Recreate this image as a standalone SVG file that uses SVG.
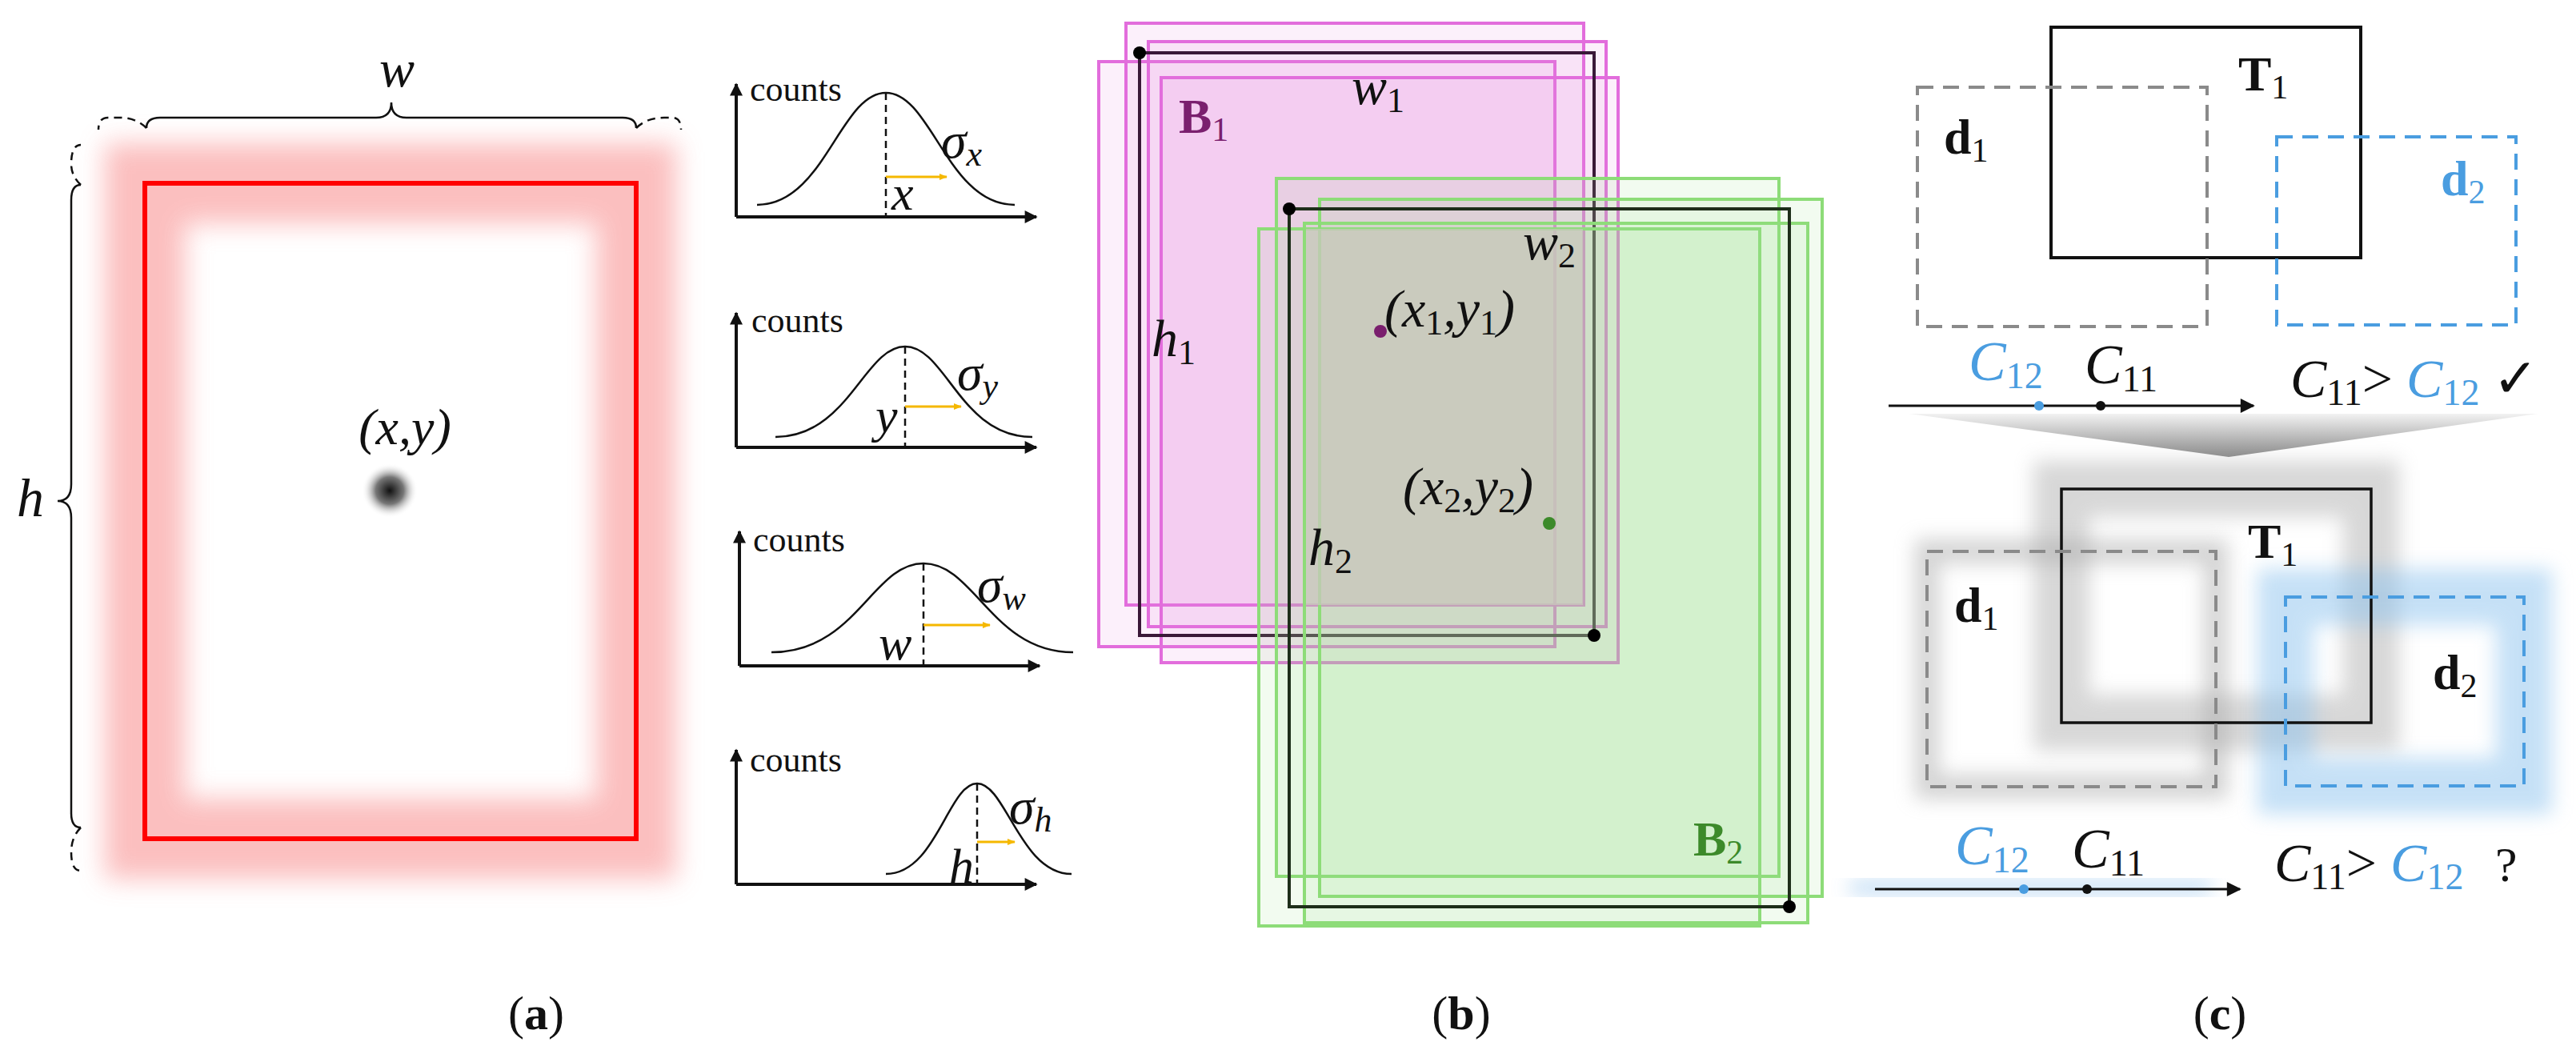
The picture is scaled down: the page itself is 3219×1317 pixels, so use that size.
<svg xmlns="http://www.w3.org/2000/svg" width="3219" height="1317" viewBox="0 0 3219 1317">
<defs>
<style>
.m{font-family:"Liberation Serif",serif;font-style:italic}
.s{font-family:"Liberation Serif",serif}
.cnt{font-family:"Liberation Serif",serif;font-size:44px;fill:#111}
.ax{stroke:#111;stroke-width:4;fill:none}
.g{stroke:#111;stroke-width:2.5;fill:none}
.dsh{stroke:#111;stroke-width:2.5;stroke-dasharray:9 6}
.ya{stroke:#f5b800;stroke-width:3}
.pk{fill:#e68ee0;fill-opacity:0.13;stroke:#e26ddc;stroke-width:4}
.gr{fill:#9ee28a;fill-opacity:0.13;stroke:#8ddc78;stroke-width:4}
.b{font-family:"Liberation Serif",serif;font-weight:bold}
.blue{fill:#4a9de0}
</style>
<marker id="ah" viewBox="0 0 10 10" refX="9" refY="5" markerWidth="18" markerHeight="16" orient="auto" markerUnits="userSpaceOnUse"><path d="M0,0L10,5L0,10z" fill="#111"/></marker>
<marker id="ahb" viewBox="0 0 10 10" refX="9" refY="5" markerWidth="24" markerHeight="18" orient="auto" markerUnits="userSpaceOnUse"><path d="M0,0L10,5L0,10z" fill="#111"/></marker>
<marker id="ay" viewBox="0 0 10 10" refX="9" refY="5" markerWidth="12" markerHeight="10" orient="auto" markerUnits="userSpaceOnUse"><path d="M0,1L10,5L0,9z" fill="#f5b800"/></marker>
<filter id="bl" x="-30%" y="-30%" width="160%" height="160%"><feGaussianBlur stdDeviation="16"/></filter>
<filter id="bl2" x="-50%" y="-50%" width="200%" height="200%"><feGaussianBlur stdDeviation="12"/></filter>
<radialGradient id="blob"><stop offset="0" stop-color="#111"/><stop offset="0.5" stop-color="#777"/><stop offset="1" stop-color="#fff" stop-opacity="0"/></radialGradient>
<linearGradient id="fun" x1="0" y1="0" x2="0" y2="1"><stop offset="0" stop-color="#f2f2f2"/><stop offset="1" stop-color="#8a8a8a"/></linearGradient>
</defs>
<rect width="3219" height="1317" fill="#fff"/>

<g id="panel-a">
<rect x="181" y="229" width="614" height="819" fill="none" stroke="#fbb4b4" stroke-width="100" filter="url(#bl)" opacity="0.85"/>
<rect x="181" y="229" width="614" height="819" fill="none" stroke="#f00" stroke-width="6"/>
<rect x="452" y="579" width="70" height="68" fill="url(#blob)"/>
<text class="m" x="506" y="555" font-size="64" text-anchor="middle" fill="#111">(x,y)</text>
<path d="M183,160 Q183,147 200,147 L470,147 Q489,147 489,128 Q489,147 508,147 L778,147 Q795,147 795,160" class="g" stroke-width="3.5"/>
<path d="M183,160 Q170,147 150,147 L135,147 Q123,147 123,162 M795,160 Q808,147 830,147 L840,147 Q851,147 851,162" class="g" stroke-width="3" stroke-dasharray="10 7"/>
<text class="m" x="496" y="108" font-size="66" text-anchor="middle" fill="#111">w</text>
<path d="M101,231 Q89,231 89,250 L89,605 Q89,626 72,626 Q89,626 89,647 L89,1016 Q89,1034 101,1034" class="g" stroke-width="3.5"/>
<path d="M101,231 Q89,220 89,205 Q89,181 101,181 M101,1034 Q89,1046 89,1065 Q89,1088 101,1088" class="g" stroke-width="3" stroke-dasharray="10 7"/>
<text class="m" x="38" y="645" font-size="68" text-anchor="middle" fill="#111">h</text>
<text class="s" x="670" y="1286" font-size="60" text-anchor="middle" fill="#111">(<tspan class="b">a</tspan>)</text>
</g>

<g id="chart-x">
<path d="M920,271 L1295,271" class="ax" marker-end="url(#ah)"/><path d="M920,271 L920,105" class="ax" marker-end="url(#ah)"/>
<text class="cnt" x="937" y="126">counts</text>
<path d="M946,256 C1030,256 1050,116 1107,116 C1164,116 1184,256 1268,256" class="g"/>
<line x1="1107" y1="116" x2="1107" y2="271" class="dsh"/>
<line x1="1107" y1="221" x2="1183" y2="221" class="ya" marker-end="url(#ay)"/>
<text class="m" x="1176" y="197" font-size="64" fill="#111">σ<tspan font-size="44" dy="10">x</tspan></text>
<text class="m" x="1114" y="262" font-size="62" fill="#111">x</text>
</g>
<g id="chart-y">
<path d="M920,559 L1295,559" class="ax" marker-end="url(#ah)"/><path d="M920,559 L920,391" class="ax" marker-end="url(#ah)"/>
<text class="cnt" x="939" y="415">counts</text>
<path d="M969,546 C1060,546 1080,433 1131,433 C1182,433 1200,546 1290,546" class="g"/>
<line x1="1131" y1="433" x2="1131" y2="559" class="dsh"/>
<line x1="1131" y1="508" x2="1201" y2="508" class="ya" marker-end="url(#ay)"/>
<text class="m" x="1196" y="487" font-size="64" fill="#111">σ<tspan font-size="44" dy="10">y</tspan></text>
<text class="m" x="1094" y="540" font-size="62" fill="#111">y</text>
</g>
<g id="chart-w">
<path d="M924,832 L1299,832" class="ax" marker-end="url(#ah)"/><path d="M924,832 L924,664" class="ax" marker-end="url(#ah)"/>
<text class="cnt" x="941" y="689">counts</text>
<path d="M964,815 C1070,815 1090,704 1154,704 C1218,704 1240,815 1341,815" class="g"/>
<line x1="1154" y1="704" x2="1154" y2="832" class="dsh"/>
<line x1="1154" y1="781" x2="1237" y2="781" class="ya" marker-end="url(#ay)"/>
<text class="m" x="1221" y="752" font-size="64" fill="#111">σ<tspan font-size="44" dy="10">w</tspan></text>
<text class="m" x="1098" y="824" font-size="62" fill="#111">w</text>
</g>
<g id="chart-h">
<path d="M920,1105 L1295,1105" class="ax" marker-end="url(#ah)"/><path d="M920,1105 L920,937" class="ax" marker-end="url(#ah)"/>
<text class="cnt" x="937" y="964">counts</text>
<path d="M1107,1092 C1170,1092 1185,979 1221,979 C1257,979 1275,1092 1339,1092" class="g"/>
<line x1="1221" y1="979" x2="1221" y2="1105" class="dsh"/>
<line x1="1221" y1="1052" x2="1268" y2="1052" class="ya" marker-end="url(#ay)"/>
<text class="m" x="1261" y="1029" font-size="64" fill="#111">σ<tspan font-size="44" dy="10">h</tspan></text>
<text class="m" x="1186" y="1103" font-size="62" fill="#111">h</text>
</g>

<g id="box-B1">
<rect class="pk" x="1373" y="77" width="570" height="731"/>
<rect class="pk" x="1407" y="29" width="572" height="727"/>
<rect class="pk" x="1435" y="52" width="572" height="731"/>
<rect class="pk" x="1451" y="97" width="571" height="731"/>
<rect x="1424" y="66" width="568" height="728" fill="none" stroke="#3a1838" stroke-width="4"/>
</g>
<g id="box-B2">
<rect class="gr" x="1573" y="286" width="626" height="871"/>
<rect class="gr" x="1595" y="223" width="628" height="872"/>
<rect class="gr" x="1630" y="279" width="629" height="874"/>
<rect class="gr" x="1649" y="249" width="628" height="871"/>
<rect x="1632" y="286" width="346" height="470" fill="#c8c8bc" fill-opacity="0.75"/>
<rect x="1611" y="261" width="625" height="872" fill="none" stroke="#1e2e1a" stroke-width="4"/>
</g>
<g id="labels-b">
<circle cx="1424" cy="66" r="8" fill="#000"/><circle cx="1992" cy="794" r="8" fill="#000"/>
<circle cx="1611" cy="261" r="8" fill="#000"/><circle cx="2236" cy="1133" r="8" fill="#000"/>
<circle cx="1725" cy="414" r="8" fill="#7a1f6e"/><circle cx="1936" cy="654" r="8" fill="#3c8a2a"/>
<text class="b" x="1473" y="166" font-size="62" fill="#7a1f6e">B<tspan font-weight="normal" font-size="42" dy="10">1</tspan></text>
<text class="b" x="2116" y="1069" font-size="62" fill="#3c8a2a">B<tspan font-weight="normal" font-size="42" dy="10">2</tspan></text>
<text class="m" x="1689" y="130" font-size="66" fill="#111">w<tspan font-style="normal" font-size="44" dy="10">1</tspan></text>
<text class="m" x="1903" y="324" font-size="66" fill="#111">w<tspan font-style="normal" font-size="44" dy="10">2</tspan></text>
<text class="m" x="1439" y="445" font-size="66" fill="#111">h<tspan font-style="normal" font-size="44" dy="10">1</tspan></text>
<text class="m" x="1635" y="706" font-size="66" fill="#111">h<tspan font-style="normal" font-size="44" dy="10">2</tspan></text>
<text class="m" x="1730" y="408" font-size="66" fill="#111">(x<tspan font-style="normal" font-size="44" dy="10">1</tspan><tspan dy="-10">,y</tspan><tspan font-style="normal" font-size="44" dy="10">1</tspan><tspan dy="-10">)</tspan></text>
<text class="m" x="1753" y="630" font-size="66" fill="#111">(x<tspan font-style="normal" font-size="44" dy="10">2</tspan><tspan dy="-10">,y</tspan><tspan font-style="normal" font-size="44" dy="10">2</tspan><tspan dy="-10">)</tspan></text>
<text class="s" x="1826" y="1286" font-size="60" text-anchor="middle" fill="#111">(<tspan class="b">b</tspan>)</text>
</g>

<g id="panel-c-top">
<rect x="2563" y="34" width="387" height="288" fill="none" stroke="#111" stroke-width="4"/>
<rect x="2396" y="109" width="362" height="299" fill="none" stroke="#8a8a8a" stroke-width="4" stroke-dasharray="20 12"/>
<rect x="2845" y="171" width="299" height="235" fill="none" stroke="#4a9de0" stroke-width="4" stroke-dasharray="20 12"/>
<text class="b" x="2797" y="113" font-size="62" fill="#111">T<tspan font-weight="normal" font-size="42" dy="10">1</tspan></text>
<text class="b" x="2429" y="192" font-size="62" fill="#111">d<tspan font-weight="normal" font-size="42" dy="10">1</tspan></text>
<text class="b" x="3050" y="244" font-size="62" fill="#4a9de0">d<tspan font-weight="normal" font-size="42" dy="10">2</tspan></text>
<line x1="2360" y1="507" x2="2816" y2="507" stroke="#111" stroke-width="3" marker-end="url(#ahb)"/>
<circle cx="2548" cy="507" r="6" fill="#4a9de0"/><circle cx="2625" cy="507" r="6" fill="#111"/>
<text class="m" x="2460" y="475" font-size="70" fill="#4a9de0">C<tspan font-style="normal" font-size="46" dy="10">12</tspan></text>
<text class="m" x="2605" y="479" font-size="70" fill="#111">C<tspan font-style="normal" font-size="46" dy="10">11</tspan></text>
<text class="s" x="2862" y="496" font-size="68" fill="#111"><tspan font-style="italic">C</tspan><tspan font-size="46" dy="10">11</tspan><tspan dy="-10">&gt; </tspan><tspan font-style="italic" class="blue">C</tspan><tspan font-size="46" dy="10" class="blue">12</tspan><tspan dy="-10"> ✓</tspan></text>
<path d="M2386,517 L3171,517 L2785,571 Z" fill="url(#fun)"/>
</g>

<g id="panel-c-bottom">
<rect x="2576" y="611" width="387" height="292" fill="none" stroke="#a8a8a8" stroke-width="70" filter="url(#bl2)" opacity="0.45"/>
<rect x="2408" y="689" width="361" height="294" fill="none" stroke="#a8a8a8" stroke-width="30" filter="url(#bl2)" opacity="0.5"/>
<rect x="2856" y="746" width="298" height="236" fill="none" stroke="#8cc2ee" stroke-width="70" filter="url(#bl2)" opacity="0.5"/>
<rect x="2576" y="611" width="387" height="292" fill="none" stroke="#111" stroke-width="3.5"/>
<rect x="2408" y="689" width="361" height="294" fill="none" stroke="#8a8a8a" stroke-width="4" stroke-dasharray="20 12"/>
<rect x="2856" y="746" width="298" height="236" fill="none" stroke="#4a9de0" stroke-width="4" stroke-dasharray="20 12"/>
<text class="b" x="2809" y="697" font-size="62" fill="#111">T<tspan font-weight="normal" font-size="42" dy="10">1</tspan></text>
<text class="b" x="2442" y="777" font-size="62" fill="#111">d<tspan font-weight="normal" font-size="42" dy="10">1</tspan></text>
<text class="b" x="3040" y="861" font-size="62" fill="#111">d<tspan font-weight="normal" font-size="42" dy="10">2</tspan></text>
<rect x="2312" y="1103" width="451" height="12" fill="#8ec0ec" filter="url(#bl2)" opacity="0.8"/>
<line x1="2343" y1="1111" x2="2799" y2="1111" stroke="#111" stroke-width="3" marker-end="url(#ahb)"/>
<circle cx="2529" cy="1111" r="6" fill="#4a9de0"/><circle cx="2608" cy="1111" r="6" fill="#111"/>
<text class="m" x="2443" y="1080" font-size="70" fill="#4a9de0">C<tspan font-style="normal" font-size="46" dy="10">12</tspan></text>
<text class="m" x="2589" y="1084" font-size="70" fill="#111">C<tspan font-style="normal" font-size="46" dy="10">11</tspan></text>
<text class="s" x="2842" y="1101" font-size="68" fill="#111"><tspan font-style="italic">C</tspan><tspan font-size="46" dy="10">11</tspan><tspan dy="-10">&gt; </tspan><tspan font-style="italic" class="blue">C</tspan><tspan font-size="46" dy="10" class="blue">12</tspan></text>
<text class="s" x="3118" y="1101" font-size="62" fill="#111">?</text>
<text class="s" x="2774" y="1286" font-size="60" text-anchor="middle" fill="#111">(<tspan class="b">c</tspan>)</text>
</g>
<g id="connectors"/>
</svg>
